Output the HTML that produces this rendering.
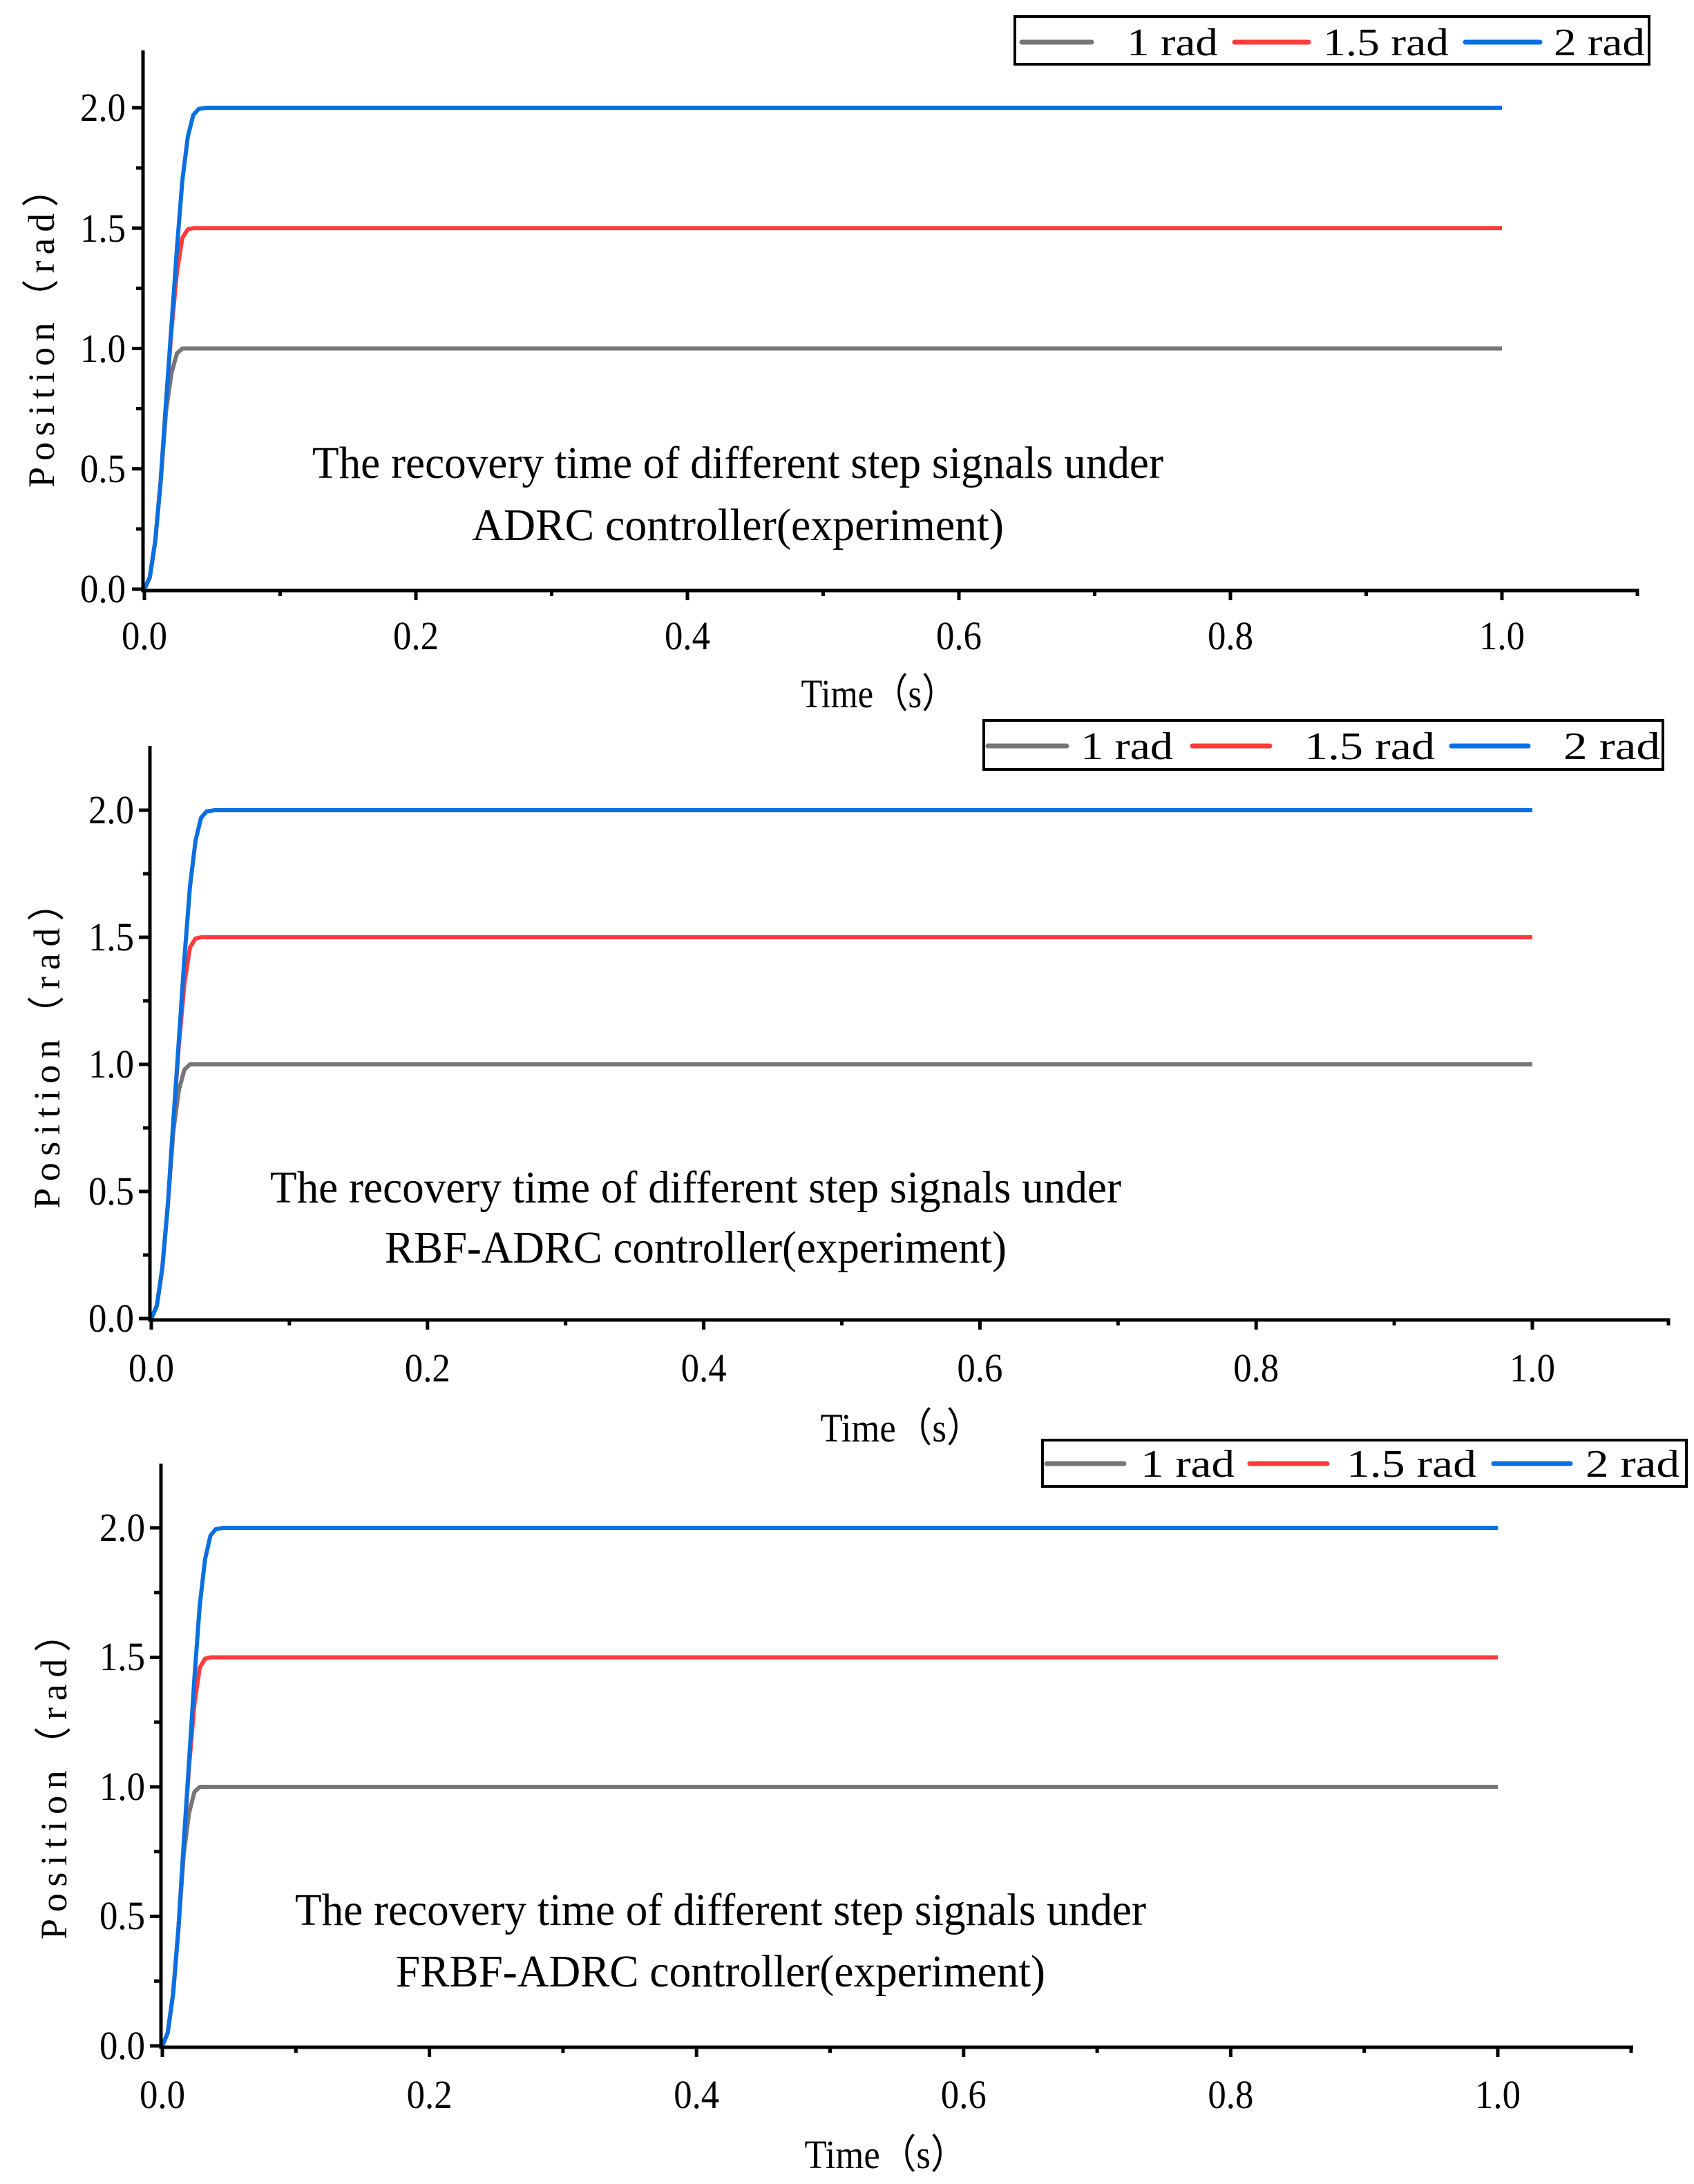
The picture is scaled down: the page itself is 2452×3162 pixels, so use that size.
<!DOCTYPE html>
<html><head><meta charset="utf-8"><style>html,body{margin:0;padding:0;background:#fff}svg{display:block}</style></head>
<body>
<svg width="2452" height="3162" viewBox="0 0 2452 3162" xmlns="http://www.w3.org/2000/svg" font-family="'Liberation Serif', serif">

<!-- ============ PLOT 1 ============ -->
<g>
<g fill="none" stroke-width="6" stroke-linejoin="round">
<polyline stroke="#767676" points="209,853 216.9,835.6 224.7,783.3 232.6,696.2 240.4,595.1 248.3,539.4 256.2,511.5 264,504.5 2174,504.5"/>
<polyline stroke="#ff3b3b" points="209,853 216.9,835.6 224.7,783.3 232.6,696.2 240.4,581.2 248.3,476.6 256.2,393 264,344.2 271.9,332 279.7,330.3 2174,330.3"/>
<polyline stroke="#0a6fe0" points="209,853 216.9,835.6 224.7,783.3 232.6,696.2 240.4,581.2 248.3,469.7 256.2,358.1 264,260.6 271.9,197.8 279.7,166.5 287.6,157.7 299.4,156 2174,156"/>
</g>
<path d="M207,73 V855 H2372" fill="none" stroke="#000" stroke-width="5"/>
<path d="M209,853v16 M602,853v16 M995,853v16 M1388,853v16 M1781,853v16 M2174,853v16 M405.5,853v10 M798.5,853v10 M1191.5,853v10 M1584.5,853v10 M1977.5,853v10 M2370,853v10
M207,853h-16 M207,678.8h-16 M207,504.5h-16 M207,330.3h-16 M207,156h-16 M207,765.9h-10 M207,591.6h-10 M207,417.4h-10 M207,243.1h-10" stroke="#000" stroke-width="5"/>
<g font-size="58" text-anchor="end">
<text x="182" y="872" textLength="66" lengthAdjust="spacingAndGlyphs">0.0</text>
<text x="182" y="698" textLength="66" lengthAdjust="spacingAndGlyphs">0.5</text>
<text x="182" y="524" textLength="66" lengthAdjust="spacingAndGlyphs">1.0</text>
<text x="182" y="350" textLength="66" lengthAdjust="spacingAndGlyphs">1.5</text>
<text x="182" y="175" textLength="66" lengthAdjust="spacingAndGlyphs">2.0</text>
</g>
<g font-size="58" text-anchor="middle">
<text x="209" y="940" textLength="66" lengthAdjust="spacingAndGlyphs">0.0</text><text x="602" y="940" textLength="66" lengthAdjust="spacingAndGlyphs">0.2</text><text x="995" y="940" textLength="66" lengthAdjust="spacingAndGlyphs">0.4</text><text x="1388" y="940" textLength="66" lengthAdjust="spacingAndGlyphs">0.6</text><text x="1781" y="940" textLength="66" lengthAdjust="spacingAndGlyphs">0.8</text><text x="2174" y="940" textLength="66" lengthAdjust="spacingAndGlyphs">1.0</text>
</g>
<text x="1272" y="1024" font-size="58" text-anchor="middle" textLength="225" lengthAdjust="spacingAndGlyphs">Time（s）</text>
<text transform="translate(78,476) rotate(-90)" font-size="54" text-anchor="middle" textLength="460" lengthAdjust="spacing">Position（rad）</text>
<text x="1068" y="692" font-size="66" text-anchor="middle" textLength="1232" lengthAdjust="spacingAndGlyphs">The recovery time of different step signals under</text>
<text x="1068" y="782" font-size="66" text-anchor="middle" textLength="770" lengthAdjust="spacingAndGlyphs">ADRC controller(experiment)</text>
<rect x="1469" y="24" width="918" height="69" fill="#fff" stroke="#000" stroke-width="4"/>
<path d="M1479,61H1580" stroke="#767676" stroke-width="7" stroke-linecap="round"/>
<path d="M1787,61H1894" stroke="#ff3b3b" stroke-width="7" stroke-linecap="round"/>
<path d="M2121,61H2229" stroke="#0a6fe0" stroke-width="7" stroke-linecap="round"/>
<g font-size="56">
<text x="1631" y="80" textLength="132" lengthAdjust="spacingAndGlyphs">1 rad</text>
<text x="1915" y="80" textLength="182" lengthAdjust="spacingAndGlyphs">1.5 rad</text>
<text x="2249" y="80" textLength="132" lengthAdjust="spacingAndGlyphs">2 rad</text>
</g>
</g>

<!-- ============ PLOT 2 ============ -->
<g>
<g fill="none" stroke-width="6" stroke-linejoin="round">
<polyline stroke="#767676" points="219,1909 227,1890.6 235,1835.4 243,1743.4 251,1636.7 259,1577.8 267,1548.4 275,1541 2218,1541"/>
<polyline stroke="#ff3b3b" points="219,1909 227,1890.6 235,1835.4 243,1743.4 251,1622 259,1511.6 267,1423.2 275,1371.7 283,1358.8 291,1357 2218,1357"/>
<polyline stroke="#0a6fe0" points="219,1909 227,1890.6 235,1835.4 243,1743.4 251,1622 259,1504.2 267,1386.4 275,1283.4 283,1217.2 291,1184 299,1174.8 311,1173 2218,1173"/>
</g>
<path d="M217,1080 V1911 H2417" fill="none" stroke="#000" stroke-width="5"/>
<path d="M219,1909v16 M618.8,1909v16 M1018.6,1909v16 M1418.4,1909v16 M1818.2,1909v16 M2218,1909v16 M418.9,1909v10 M818.7,1909v10 M1218.5,1909v10 M1618.3,1909v10 M2018.1,1909v10 M2415,1909v10
M217,1909h-16 M217,1725h-16 M217,1541h-16 M217,1357h-16 M217,1173h-16 M217,1817h-10 M217,1633h-10 M217,1449h-10 M217,1265h-10" stroke="#000" stroke-width="5"/>
<g font-size="58" text-anchor="end">
<text x="194" y="1928" textLength="66" lengthAdjust="spacingAndGlyphs">0.0</text>
<text x="194" y="1744" textLength="66" lengthAdjust="spacingAndGlyphs">0.5</text>
<text x="194" y="1560" textLength="66" lengthAdjust="spacingAndGlyphs">1.0</text>
<text x="194" y="1376" textLength="66" lengthAdjust="spacingAndGlyphs">1.5</text>
<text x="194" y="1192" textLength="66" lengthAdjust="spacingAndGlyphs">2.0</text>
</g>
<g font-size="58" text-anchor="middle">
<text x="219" y="2000" textLength="66" lengthAdjust="spacingAndGlyphs">0.0</text><text x="618.8" y="2000" textLength="66" lengthAdjust="spacingAndGlyphs">0.2</text><text x="1018.6" y="2000" textLength="66" lengthAdjust="spacingAndGlyphs">0.4</text><text x="1418.4" y="2000" textLength="66" lengthAdjust="spacingAndGlyphs">0.6</text><text x="1818.2" y="2000" textLength="66" lengthAdjust="spacingAndGlyphs">0.8</text><text x="2218" y="2000" textLength="66" lengthAdjust="spacingAndGlyphs">1.0</text>
</g>
<text x="1305" y="2087" font-size="58" text-anchor="middle" textLength="235" lengthAdjust="spacingAndGlyphs">Time（s）</text>
<text transform="translate(86,1515) rotate(-90)" font-size="54" text-anchor="middle" textLength="470" lengthAdjust="spacing">Position（rad）</text>
<text x="1007" y="1741" font-size="66" text-anchor="middle" textLength="1232" lengthAdjust="spacingAndGlyphs">The recovery time of different step signals under</text>
<text x="1007" y="1828" font-size="66" text-anchor="middle" textLength="900" lengthAdjust="spacingAndGlyphs">RBF-ADRC controller(experiment)</text>
<rect x="1424" y="1043" width="983" height="71" fill="#fff" stroke="#000" stroke-width="4"/>
<path d="M1430,1080H1544" stroke="#767676" stroke-width="7" stroke-linecap="round"/>
<path d="M1726,1080H1838" stroke="#ff3b3b" stroke-width="7" stroke-linecap="round"/>
<path d="M2101,1080H2212" stroke="#0a6fe0" stroke-width="7" stroke-linecap="round"/>
<g font-size="56">
<text x="1564" y="1099" textLength="134" lengthAdjust="spacingAndGlyphs">1 rad</text>
<text x="1888" y="1099" textLength="189" lengthAdjust="spacingAndGlyphs">1.5 rad</text>
<text x="2263" y="1099" textLength="140" lengthAdjust="spacingAndGlyphs">2 rad</text>
</g>
</g>

<!-- ============ PLOT 3 ============ -->
<g>
<g fill="none" stroke-width="6" stroke-linejoin="round">
<polyline stroke="#767676" points="235,2962 242.7,2943.25 250.5,2887 258.2,2793.25 265.9,2684.5 273.7,2624.5 281.4,2594.5 289.1,2587 2168,2587"/>
<polyline stroke="#ff3b3b" points="235,2962 242.7,2943.25 250.5,2887 258.2,2793.25 265.9,2669.5 273.7,2557 281.4,2467 289.1,2414.5 296.9,2401.4 304.6,2399.5 2168,2399.5"/>
<polyline stroke="#0a6fe0" points="235,2962 242.7,2943.25 250.5,2887 258.2,2793.25 265.9,2669.5 273.7,2549.5 281.4,2429.5 289.1,2324.5 296.9,2257 304.6,2223.25 312.3,2213.9 323.9,2212 2168,2212"/>
</g>
<path d="M233,2119 V2964 H2364" fill="none" stroke="#000" stroke-width="5"/>
<path d="M235,2962v16 M621.6,2962v16 M1008.2,2962v16 M1394.8,2962v16 M1781.4,2962v16 M2168,2962v16 M428.3,2962v10 M814.9,2962v10 M1201.5,2962v10 M1588.1,2962v10 M1974.7,2962v10 M2361,2962v10
M233,2962h-16 M233,2774.5h-16 M233,2587h-16 M233,2399.5h-16 M233,2212h-16 M233,2868.25h-10 M233,2680.75h-10 M233,2493.25h-10 M233,2305.75h-10" stroke="#000" stroke-width="5"/>
<g font-size="58" text-anchor="end">
<text x="210" y="2981" textLength="66" lengthAdjust="spacingAndGlyphs">0.0</text>
<text x="210" y="2793" textLength="66" lengthAdjust="spacingAndGlyphs">0.5</text>
<text x="210" y="2606" textLength="66" lengthAdjust="spacingAndGlyphs">1.0</text>
<text x="210" y="2418" textLength="66" lengthAdjust="spacingAndGlyphs">1.5</text>
<text x="210" y="2231" textLength="66" lengthAdjust="spacingAndGlyphs">2.0</text>
</g>
<g font-size="58" text-anchor="middle">
<text x="235" y="3052" textLength="66" lengthAdjust="spacingAndGlyphs">0.0</text><text x="621.6" y="3052" textLength="66" lengthAdjust="spacingAndGlyphs">0.2</text><text x="1008.2" y="3052" textLength="66" lengthAdjust="spacingAndGlyphs">0.4</text><text x="1394.8" y="3052" textLength="66" lengthAdjust="spacingAndGlyphs">0.6</text><text x="1781.4" y="3052" textLength="66" lengthAdjust="spacingAndGlyphs">0.8</text><text x="2168" y="3052" textLength="66" lengthAdjust="spacingAndGlyphs">1.0</text>
</g>
<text x="1282" y="3139" font-size="58" text-anchor="middle" textLength="235" lengthAdjust="spacingAndGlyphs">Time（s）</text>
<text transform="translate(96,2573) rotate(-90)" font-size="54" text-anchor="middle" textLength="470" lengthAdjust="spacing">Position（rad）</text>
<text x="1043" y="2787" font-size="66" text-anchor="middle" textLength="1232" lengthAdjust="spacingAndGlyphs">The recovery time of different step signals under</text>
<text x="1043" y="2876" font-size="66" text-anchor="middle" textLength="940" lengthAdjust="spacingAndGlyphs">FRBF-ADRC controller(experiment)</text>
<rect x="1509" y="2085" width="932" height="67" fill="#fff" stroke="#000" stroke-width="4"/>
<path d="M1515,2119H1627" stroke="#767676" stroke-width="7" stroke-linecap="round"/>
<path d="M1809,2119H1921" stroke="#ff3b3b" stroke-width="7" stroke-linecap="round"/>
<path d="M2162,2119H2273" stroke="#0a6fe0" stroke-width="7" stroke-linecap="round"/>
<g font-size="56">
<text x="1651" y="2138" textLength="136" lengthAdjust="spacingAndGlyphs">1 rad</text>
<text x="1949" y="2138" textLength="188" lengthAdjust="spacingAndGlyphs">1.5 rad</text>
<text x="2295" y="2138" textLength="136" lengthAdjust="spacingAndGlyphs">2 rad</text>
</g>
</g>
</svg>
</body></html>
